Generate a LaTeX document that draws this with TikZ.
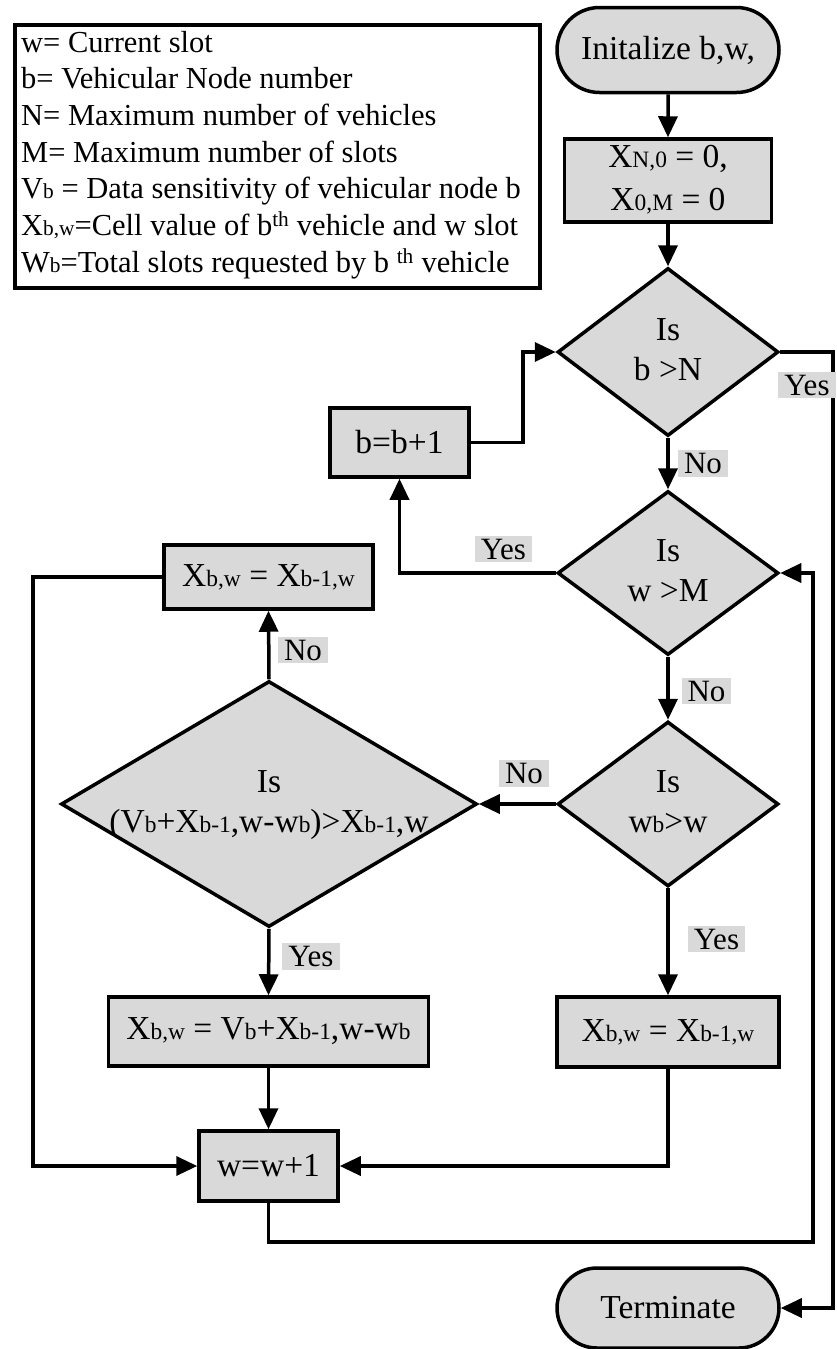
\documentclass[tikz,border=0pt]{standalone}
\usepackage{fontspec}
\usepackage{graphicx}
\setmainfont{Liberation Serif}
\usetikzlibrary{shapes.geometric,shapes.misc,arrows.meta}

\definecolor{boxgray}{HTML}{D9D9D9}

% font sizes
\newcommand\nodefont{\fontsize{33.5}{40}\selectfont}
\newcommand\legfont{\fontsize{30.5}{36.7}\selectfont}
\newcommand\lblfont{\fontsize{31}{36}\selectfont}
% small index letters sitting on the baseline
\newcommand\lo[1]{\scalebox{0.7}{#1}}
% two centred lines of zero width (text may run past a diamond's edges)
\newcommand\dtext[2]{\makebox[0pt]{\begin{tabular}{@{}c@{}}#1\\#2\end{tabular}}}

\tikzset{
  conn/.style={line width=3.5pt},
  arr/.style={line width=3.5pt, -{Triangle[length=21pt,width=19pt]}},
  proc/.style={rectangle, draw, line width=3.5pt, fill=boxgray, inner sep=0pt, font=\nodefont},
  terminal/.style={rounded rectangle, draw, line width=3.5pt, fill=boxgray, inner sep=0pt, font=\nodefont},
  decision/.style={diamond, draw, line width=3.5pt, fill=boxgray, inner sep=0pt, aspect=1, font=\nodefont},
  lbl/.style={fill=boxgray, inner xsep=6pt, inner ysep=3pt, font=\lblfont},
}

\begin{document}
\begin{tikzpicture}[x=1pt,y=-1pt]
\useasboundingbox (0,0) rectangle (836,1349);

% legend
\node[draw, line width=3.5pt, minimum width=525pt, minimum height=263pt,
      anchor=north west, inner sep=0pt] (legend) at (13,23) {};
\node[anchor=base west, inner sep=0pt, font=\legfont] (legtext) at (21,52)
  {\begin{tabular}[t]{@{}l@{}}
   w= Current slot\\
   b= Vehicular Node number\\
   N= Maximum number of vehicles\\
   M= Maximum number of slots\\
   V\lo{b} = Data sensitivity of vehicular node b\\
   X\lo{b,w}=Cell value of b\textsuperscript{th} vehicle and w slot\\
   W\lo{b}=Total slots requested by b \textsuperscript{th} vehicle
   \end{tabular}};

% flow nodes
\node[terminal, minimum width=222pt, minimum height=85pt] (init) at (668,50) {Initalize b,w,};
\node[proc, minimum width=207pt, minimum height=77pt] (xinit) at (668,180.5)
  {\raisebox{-4pt}{\begin{tabular}{@{}c@{}}X\lo{N,0} = 0,\\[3pt] X\lo{0,M} = 0\end{tabular}}};
\node[decision, minimum width=221pt, minimum height=168pt] (d1) at (668,352) {\dtext{Is}{b >N}};
\node[proc, minimum width=139pt, minimum height=69pt] (bb) at (399.5,442.5) {b=b+1};
\node[decision, minimum width=221pt, minimum height=164pt] (d2) at (668,573) {\dtext{Is}{w >M}};
\node[decision, minimum width=221pt, minimum height=165pt] (d3) at (668,804) {\dtext{Is}{w\lo{b}>w}};
\node[decision, minimum width=416pt, minimum height=246pt] (d4) at (269,804)
  {\raisebox{6pt}{\dtext{Is}{(V\lo{b}+X\lo{b-1},w-w\lo{b})>X\lo{b-1},w}}};
\node[proc, minimum width=209pt, minimum height=64pt] (xl) at (268.5,577) {X\lo{b,w} = X\lo{b-1,w}};
\node[proc, minimum width=320pt, minimum height=69pt] (xm) at (268.5,1031.5) {X\lo{b,w} = V\lo{b}+X\lo{b-1},w-w\lo{b}};
\node[proc, minimum width=222pt, minimum height=70pt] (xr) at (668,1032) {X\lo{b,w} = X\lo{b-1,w}};
\node[proc, minimum width=139pt, minimum height=70pt] (ww) at (268.5,1166) {w=w+1};
\node[terminal, minimum width=222pt, minimum height=80pt] (term) at (668,1308) {Terminate};

% routing corners
\coordinate (outr) at (833,800);
\coordinate (inr) at (813,1242);
\coordinate (jog) at (523,400);
\coordinate (lft) at (33,800);

% connectors
\draw[arr] (init) -- (xinit);
\draw[arr] (xinit) -- (d1.north);
\draw[arr] (d1.east) -| (outr) |- (term.east);
\draw[arr] (d1.south) -- (d2.north);
\draw[arr] (d2.west) -| (bb.south);
\draw[arr] (bb.east) -- (bb.east -| jog) |- (d1.west);
\draw[arr] (d2.south) -- (d3.north);
\draw[arr] (d3.west) -- (d4.east);
\draw[arr] (d3.south) -- (xr.north);
\draw[arr] (d4.north) -- (xl.south);
\draw[arr] (d4.south) -- (xm.north);
\draw[arr] (xm.south) -- (ww.north);
\draw[arr] (xl.west) -- (xl.west -| lft) |- (ww.west);
\draw[arr] (xr.south) |- (ww.east);
\draw[arr] (ww.south) |- (inr) |- (d2.east);

% branch labels
\node[lbl] (yes1) at (807,385) {Yes};
\node[lbl] (no1) at (703,463.5) {No};
\node[lbl] (yes2) at (503.5,549) {Yes};
\node[lbl] (no2) at (706.5,691) {No};
\node[lbl] (no3) at (524,773.5) {No};
\node[lbl] (yes3) at (716.5,939) {Yes};
\node[lbl] (no4) at (303,650) {No};
\node[lbl] (yes4) at (311,956.5) {Yes};
\end{tikzpicture}
\end{document}
